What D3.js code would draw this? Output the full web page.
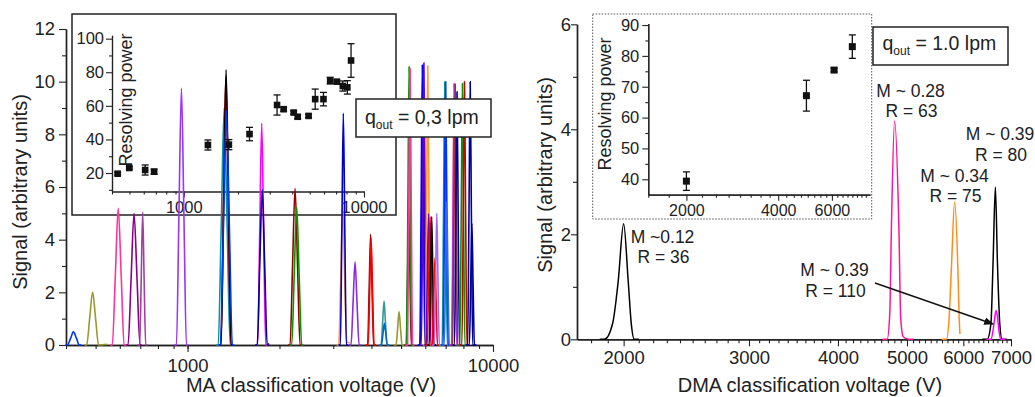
<!DOCTYPE html>
<html><head><meta charset="utf-8">
<script src="https://cdn.jsdelivr.net/npm/d3@7"></script>
<style>body{margin:0;background:#fff}svg{display:block}text{font-family:"Liberation Sans",Arial,Helvetica,sans-serif;fill:#222}</style>
</head><body><svg id="c" width="1035" height="397"></svg>
<script>
// ---------- LEFT PANEL (MA, q_out = 0,3 lpm) ----------
const maXTickLabels = [1000, 10000];
const maYTicks = [0, 2, 4, 6, 8, 10, 12];
const maPeakColors = [
  "#0033ff", "#999933", "#ff3399", "#8b008b", "#a040a0", "#9933ff",
  "#009999", "#ff0000", "#000000", "#0033ff",
  "#ff00ff", "#000099",
  "#990000", "#009900",
  "#ff9933", "#0000cc",
  "#8a2be2",
  "#990000", "#ff0000",
  "#339999", "#0066cc",
  "#999933",
  "#990033", "#009900", "#ff3399",
  "#000099", "#0000ff", "#6600cc",
  "#ff9933", "#7700bb", "#ff0000", "#000000", "#ff0000", "#a366ff",
  "#009999", "#0033ff", "#3366ff",
  "#ff3399", "#9933ff", "#993333", "#000099",
  "#009900", "#cc0000", "#000099", "#000099"
];
const maPeakPoints = [
  [[404,0],[414,0.25],[423,0.5],[433,0.25],[442,0]],
  [[467.5,0],[478,1.0],[489,2.0],[500,1.0],[511.5,0],[545,0.03]],
  [[567,0],[580,2.6],[593,5.2],[606.6,2.6],[620,0]],
  [[638.6,0],[653.3,2.5],[668,5.0],[683.4,2.5],[698.7,0]],
  [[697.3,0],[705.2,2.5],[713,5.05],[720.8,2.5],[729.4,0]],
  [[919.7,0],[936.9,4.9],[955,9.75],[973.1,4.9],[991.3,0]],
  [[1260,0],[1289,4.5],[1318,9.0],[1348,4.5],[1379,0]],
  [[1285.6,0],[1309.6,5.1],[1335,10.2],[1360,5.1],[1385.7,0]],
  [[1287.5,0],[1311.6,5.2],[1337,10.45],[1362.4,5.2],[1387.8,0]],
  [[1281,0],[1310.5,4.45],[1340,8.9],[1370.8,4.45],[1401.6,0]],
  [[1696.5,0],[1722.8,4.2],[1749,8.42],[1775.2,4.2],[1803.2,0]],
  [[1691,0],[1722.6,2.95],[1756,5.9],[1789.4,2.95],[1822.7,0],[1850,0.05]],
  [[2166,0],[2206.7,3.0],[2249,5.95],[2291.7,3.0],[2334.5,0]],
  [[2193,0],[2234,2.6],[2277,5.25],[2320,2.6],[2364,0]],
  [[3125,0],[3174,2.6],[3222,5.25],[3270,2.6],[3322,0.1],[3400,0.08]],
  [[3165,0],[3200,4.4],[3236,8.8],[3272,4.4],[3310,0]],
  [[3429,0],[3482,1.58],[3535,3.16],[3588,1.58],[3645,0]],
  [[3887.6,0],[3931,2.1],[3975,4.2],[4019,2.1],[4066,0]],
  [[3902,0],[3946,2.0],[3990,4.05],[4034,2.0],[4082,0]],
  [[4302,0],[4350.6,0.83],[4399,1.67],[4447,0.83],[4500,0]],
  [[4313,0],[4361.5,0.41],[4410,0.82],[4458.5,0.41],[4511,0]],
  [[4818,0],[4872,0.63],[4926,1.27],[4980,0.63],[5039,0]],
  [[5200,0],[5252,2.6],[5300,5.2],[5348,2.6],[5400.7,0]],
  [[5213,0],[5264,5.3],[5312,10.57],[5360,5.3],[5413,0]],
  [[5252,0],[5304,5.25],[5352,10.5],[5400,5.25],[5454,0]],
  [[5788,0],[5847,5.3],[5900,10.6],[5953,5.3],[6012,0]],
  [[5758,0],[5817,5.3],[5870,10.63],[5923,5.3],[5981.5,0]],
  [[5827,0],[5886.5,5.36],[5940,10.72],[5993.5,5.36],[6053,0]],
  [[6000,0],[6061,5.3],[6116,10.6],[6171,5.3],[6232,0]],
  [[6033,0],[6094.6,2.5],[6150,4.98],[6205,2.5],[6267,0]],
  [[6089,0],[6157.5,2.43],[6226,4.87],[6294.5,2.43],[6369,0]],
  [[6180,0],[6243,2.43],[6300,4.87],[6357,2.43],[6420,0]],
  [[6332,0],[6397,1.65],[6455,3.3],[6513,1.65],[6578,0]],
  [[6421.6,0],[6487,2.5],[6546,5.0],[6605,2.5],[6670,0]],
  [[6818,0],[6887,5.0],[6950,10.0],[7013,5.0],[7082,0]],
  [[6867,0],[6937,5.0],[7000,10.0],[7063,5.0],[7133,0]],
  [[6921,0],[6991.5,2.7],[7055,5.45],[7118.5,2.7],[7189,0]],
  [[7318,0],[7393,4.96],[7460,9.93],[7527,4.96],[7602,0]],
  [[7338,0],[7413,4.95],[7480,9.9],[7547,4.95],[7622,0]],
  [[7377,0],[7452,4.95],[7520,9.9],[7588,4.95],[7663,0]],
  [[7478,0],[7554,4.8],[7623,9.62],[7692,4.8],[7768,0]],
  [[7790,0],[7870,4.96],[7941,9.93],[8012,4.96],[8092,0]],
  [[7910,0],[7990,5.0],[8063,10.0],[8136,5.0],[8216,0]],
  [[8260,0],[8344,5.0],[8420,10.0],[8496,5.0],[8580,0]],
  [[8367,0],[8452,2.3],[8529,4.62],[8606,2.3],[8691,0]]
];
// inset: resolving power vs MA voltage
const maInsetV   = [430, 499, 611, 685, 1362, 1780, 2317, 3294, 3582, 4073, 4288, 4925, 5360, 5960, 6490, 7065, 7626, 8085, 8475];
const maInsetR   = [19.6, 23, 21.8, 20.8, 36.7, 36.9, 43.2, 60.5, 58, 56, 53.5, 54, 64, 64, 75, 74.4, 71.8, 71, 87];
const maInsetErr = [0.8, 0.8, 3, 1.5, 3, 3, 4, 6, 1.2, 1, 1.2, 1, 6, 4, 2, 1, 3, 4, 10];
const maInsetYTicks = [20, 40, 60, 80, 100];

// ---------- RIGHT PANEL (DMA, q_out = 1.0 lpm) ----------
const dmaXTicks = [2000, 3000, 4000, 5000, 6000, 7000];
const dmaYTicks = [0, 2, 4, 6];
const dmaPeakColors = ["#000000", "#ff1493", "#ff8c1a", "#000000", "#ff00ff"];
const dmaPeakPoints = [
  [[1880,0],[1930,0.3],[1965,1.1],[2000,2.2],[2030,1.1],[2050,0.3],[2070,0]],
  [[4690,0],[4730,0.5],[4754,2.08],[4804,4.16],[4872,2.08],[4900,0.4],[4940,0.05],[5030,0]],
  [[5680,0],[5730,0.4],[5771,1.31],[5834,2.62],[5896,1.31],[5920,0.4],[5935,0.1]],
  [[6480,0],[6560,0.3],[6605,1.45],[6655,2.9],[6700,1.45],[6750,0.3],[6800,0]],
  [[6560,0],[6610,0.2],[6640,0.4],[6670,0.55],[6705,0.4],[6735,0.15],[6770,0]]
];
const dmaLabelsM = ["M ~0.12", "M ~ 0.28", "M ~ 0.39", "M ~ 0.34", "M ~ 0.39"];
const dmaLabelsR = ["R = 36", "R = 63", "R = 80", "R = 75", "R = 110"];
const dmaInsetV   = [2000, 4950, 6100, 7000];
const dmaInsetR   = [39.4, 67.1, 75.4, 83];
const dmaInsetErr = [3, 5, 0.6, 3.8];
const dmaInsetXTicks = [2000, 4000, 6000];
const dmaInsetYTicks = [40, 50, 60, 70, 80, 90];

// ================= drawing =================
const svg = d3.select("#c");
const FONT = "'Liberation Sans', Arial, Helvetica, sans-serif";
const TICKFS = 18.5, TITLEFS = 20;

function styleAxis(g, fs, sw) {
  g.select(".domain").attr("stroke", "#222").attr("stroke-width", sw || 1.4);
  g.selectAll(".tick line").attr("stroke", "#222").attr("stroke-width", 1.1);
  g.selectAll(".tick text").attr("font-size", fs).attr("font-family", FONT).attr("fill", "#222");
}
function logMinor(lo, hi) {
  const out = [];
  for (let d = Math.pow(10, Math.floor(Math.log10(lo))); d < hi; d *= 10)
    for (let k = 1; k < 10; k++) { const v = k * d; if (v >= lo && v <= hi) out.push(v); }
  return out;
}
// flat baseline shoulders so the monotone curve leaves the baseline smoothly
function withShoulders(p) {
  const out = p.slice();
  if (p[0][1] === 0) out.unshift([p[0][0] * 0.985, 0]);
  if (p[p.length - 1][1] === 0) out.push([p[p.length - 1][0] * 1.015, 0]);
  return out;
}

// ---------- left scales ----------
const xL = d3.scaleLog().domain([400, 10000]).range([66, 493]);
const yL = d3.scaleLinear().domain([0, 12]).range([345, 29]);
const xLi = d3.scaleLog().domain([400, 10000]).range([112, 364]);
const yLi = d3.scaleLinear().domain([9, 102]).range([191.5, 35.3]);

let g;
g = svg.append("g").attr("transform", "translate(0,345)")
  .call(d3.axisBottom(xL).tickValues(logMinor(400, 10000)).tickSize(4).tickFormat("").tickSizeOuter(0));
styleAxis(g, TICKFS);
g = svg.append("g").attr("transform", "translate(0,345)")
  .call(d3.axisBottom(xL).tickValues(maXTickLabels).tickSize(7).tickPadding(7).tickFormat(d3.format("d")).tickSizeOuter(0));
styleAxis(g, TICKFS);
g = svg.append("g").attr("transform", "translate(66,0)")
  .call(d3.axisLeft(yL).tickValues([1,3,5,7,9,11]).tickSize(4).tickFormat("").tickSizeOuter(0));
styleAxis(g, TICKFS);
g = svg.append("g").attr("transform", "translate(66,0)")
  .call(d3.axisLeft(yL).tickValues(maYTicks).tickSize(7).tickPadding(4).tickSizeOuter(0));
styleAxis(g, TICKFS);

svg.append("text").attr("x", 311).attr("y", 392).attr("text-anchor", "middle")
  .attr("font-size", TITLEFS).text("MA classification voltage (V)");
svg.append("text").attr("transform", "translate(27,192) rotate(-90)").attr("text-anchor", "middle")
  .attr("font-size", TITLEFS).text("Signal (arbitrary units)");

// inset box left
svg.append("rect").attr("x", 72).attr("y", 14).attr("width", 324).attr("height", 201)
  .attr("fill", "none").attr("stroke", "#222").attr("stroke-width", 1.5);
g = svg.append("g").attr("transform", "translate(0,191.5)")
  .call(d3.axisBottom(xLi).tickValues(logMinor(400, 10000)).tickSize(3).tickFormat("").tickSizeOuter(0));
styleAxis(g, 16.5, 1.2);
g = svg.append("g").attr("transform", "translate(0,191.5)")
  .call(d3.axisBottom(xLi).tickValues(maXTickLabels).tickSize(6).tickPadding(4).tickFormat(d3.format("d")).tickSizeOuter(0));
styleAxis(g, 16.5, 1.2);
g = svg.append("g").attr("transform", "translate(112,0)")
  .call(d3.axisLeft(yLi).tickValues([10, 30, 50, 70, 90]).tickSize(3).tickFormat("").tickSizeOuter(0));
styleAxis(g, 16.5, 1.2);
g = svg.append("g").attr("transform", "translate(112,0)")
  .call(d3.axisLeft(yLi).tickValues(maInsetYTicks).tickSize(6).tickPadding(2).tickSizeOuter(0));
styleAxis(g, 16.5, 1.2);
svg.append("text").attr("transform", "translate(132,100) rotate(-90)").attr("text-anchor", "middle")
  .attr("font-size", 18).text("Resolving power");

// peaks left
const lineL = d3.line().x(d => xL(d[0])).y(d => yL(d[1])).curve(d3.curveMonotoneX);
svg.append("g").selectAll("path").data(maPeakPoints.map(withShoulders)).join("path")
  .attr("d", lineL).attr("fill", "none")
  .attr("stroke", (d, i) => maPeakColors[i]).attr("stroke-width", 1.6).attr("stroke-linejoin", "round");

// inset points left
const ptsL = svg.append("g");
maInsetV.forEach((v, i) => {
  const x = xLi(v), y0 = yLi(maInsetR[i] - maInsetErr[i]), y1 = yLi(maInsetR[i] + maInsetErr[i]);
  ptsL.append("line").attr("x1", x).attr("x2", x).attr("y1", y0).attr("y2", y1).attr("stroke", "#111").attr("stroke-width", 1.3);
  ptsL.append("line").attr("x1", x - 3.5).attr("x2", x + 3.5).attr("y1", y0).attr("y2", y0).attr("stroke", "#111").attr("stroke-width", 1.3);
  ptsL.append("line").attr("x1", x - 3.5).attr("x2", x + 3.5).attr("y1", y1).attr("y2", y1).attr("stroke", "#111").attr("stroke-width", 1.3);
  ptsL.append("rect").attr("x", x - 3.3).attr("y", yLi(maInsetR[i]) - 3.3).attr("width", 6.6).attr("height", 6.6).attr("fill", "#111");
});

// q box left
svg.append("rect").attr("x", 356).attr("y", 99).attr("width", 135).attr("height", 38)
  .attr("fill", "#fff").attr("stroke", "#222").attr("stroke-width", 1.5);
let qt = svg.append("text").attr("x", 365).attr("y", 124).attr("font-size", 19.5);
qt.append("tspan").text("q");
qt.append("tspan").attr("font-size", 12).attr("dy", 5).text("out");
qt.append("tspan").attr("dy", -5).text(" = 0,3 lpm");

// ---------- right scales ----------
const xR = d3.scaleLog().domain([1720, 7000]).range([577, 1011]);
const yR = d3.scaleLinear().domain([0, 6]).range([339.3, 24.3]);
const xRi = d3.scaleLog().domain([1500, 8000]).range([648.3, 870]);
const yRi = d3.scaleLinear().domain([35, 90.5]).range([194.7, 23.5]);

const dmaMinor = d3.range(1800, 7000, 100).filter(v => v % 1000 !== 0);
g = svg.append("g").attr("transform", "translate(0,339.3)")
  .call(d3.axisBottom(xR).tickValues(dmaMinor).tickSize(4).tickFormat("").tickSizeOuter(0));
styleAxis(g, TICKFS);
g = svg.append("g").attr("transform", "translate(0,339.3)")
  .call(d3.axisBottom(xR).tickValues(dmaXTicks).tickSize(7).tickPadding(5).tickFormat(d3.format("d")).tickSizeOuter(0));
styleAxis(g, TICKFS);
g = svg.append("g").attr("transform", "translate(577,0)")
  .call(d3.axisLeft(yR).tickValues([1, 3, 5]).tickSize(4).tickFormat("").tickSizeOuter(0));
styleAxis(g, TICKFS);
g = svg.append("g").attr("transform", "translate(577,0)")
  .call(d3.axisLeft(yR).tickValues(dmaYTicks).tickSize(6).tickPadding(0).tickFormat(d3.format("d")).tickSizeOuter(0));
styleAxis(g, TICKFS);

svg.append("text").attr("x", 810).attr("y", 392).attr("text-anchor", "middle")
  .attr("font-size", TITLEFS).text("DMA classification voltage (V)");
svg.append("text").attr("transform", "translate(552,175) rotate(-90)").attr("text-anchor", "middle")
  .attr("font-size", TITLEFS).text("Signal (arbitrary units)");

// inset right
svg.append("rect").attr("x", 592.7).attr("y", 14).attr("width", 279).attr("height", 205)
  .attr("fill", "none").attr("stroke", "#555").attr("stroke-width", 1).attr("stroke-dasharray", "1.5,1.5");
const dmaInsetMinor = d3.range(1500, 8001, 250).filter(v => v % 2000 !== 0);
g = svg.append("g").attr("transform", "translate(0,194.7)")
  .call(d3.axisBottom(xRi).tickValues(dmaInsetMinor).tickSize(3).tickFormat("").tickSizeOuter(0));
styleAxis(g, 16, 1.2);
g = svg.append("g").attr("transform", "translate(0,194.7)")
  .call(d3.axisBottom(xRi).tickValues(dmaInsetXTicks).tickSize(6).tickPadding(4).tickFormat(d3.format("d")).tickSizeOuter(0));
styleAxis(g, 16, 1.2);
g = svg.append("g").attr("transform", "translate(648.3,0)")
  .call(d3.axisLeft(yRi).tickValues([45, 55, 65, 75, 85]).tickSize(3).tickFormat("").tickSizeOuter(0));
styleAxis(g, 16.5, 1.2);
g = svg.append("g").attr("transform", "translate(648.3,0)")
  .call(d3.axisLeft(yRi).tickValues(dmaInsetYTicks).tickSize(6).tickPadding(3).tickSizeOuter(0));
styleAxis(g, 16.5, 1.2);
svg.append("text").attr("transform", "translate(611,104) rotate(-90)").attr("text-anchor", "middle")
  .attr("font-size", 18).text("Resolving power");

const ptsR = svg.append("g");
dmaInsetV.forEach((v, i) => {
  const x = xRi(v), y0 = yRi(dmaInsetR[i] - dmaInsetErr[i]), y1 = yRi(dmaInsetR[i] + dmaInsetErr[i]);
  ptsR.append("line").attr("x1", x).attr("x2", x).attr("y1", y0).attr("y2", y1).attr("stroke", "#111").attr("stroke-width", 1.3);
  ptsR.append("line").attr("x1", x - 3.5).attr("x2", x + 3.5).attr("y1", y0).attr("y2", y0).attr("stroke", "#111").attr("stroke-width", 1.3);
  ptsR.append("line").attr("x1", x - 3.5).attr("x2", x + 3.5).attr("y1", y1).attr("y2", y1).attr("stroke", "#111").attr("stroke-width", 1.3);
  ptsR.append("rect").attr("x", x - 3.5).attr("y", yRi(dmaInsetR[i]) - 3.5).attr("width", 7).attr("height", 7).attr("fill", "#111");
});

// peaks right
const lineR = d3.line().x(d => xR(d[0])).y(d => yR(d[1])).curve(d3.curveMonotoneX);
svg.append("g").selectAll("path").data(dmaPeakPoints.map(withShoulders)).join("path")
  .attr("d", lineR).attr("fill", "none")
  .attr("stroke", (d, i) => dmaPeakColors[i]).attr("stroke-width", 1.5).attr("stroke-linejoin", "round");

// annotations right
const annX = [662.5, 910.5, 1000, 954.5, 834.5];
const annYM = [243, 96.7, 140, 181.7, 276];
const annYR = [263.3, 117.3, 160.7, 202.3, 296.7];
dmaLabelsM.forEach((t, i) => {
  svg.append("text").attr("x", annX[i]).attr("y", annYM[i]).attr("text-anchor", "middle").attr("font-size", 17.5).text(t);
  svg.append("text").attr("x", annX[i] + 1).attr("y", annYR[i]).attr("text-anchor", "middle").attr("font-size", 17.5).text(dmaLabelsR[i]);
});
svg.append("defs").append("marker").attr("id", "ah").attr("viewBox", "0 0 10 10")
  .attr("refX", 9).attr("refY", 5).attr("markerWidth", 7).attr("markerHeight", 7).attr("orient", "auto")
  .append("path").attr("d", "M0,1 L10,5 L0,9 z").attr("fill", "#111");
svg.append("line").attr("x1", 875).attr("y1", 283).attr("x2", 993).attr("y2", 324)
  .attr("stroke", "#111").attr("stroke-width", 1.4).attr("marker-end", "url(#ah)");

// q box right
svg.append("rect").attr("x", 873).attr("y", 27).attr("width", 135).attr("height", 38)
  .attr("fill", "#fff").attr("stroke", "#222").attr("stroke-width", 1.5);
qt = svg.append("text").attr("x", 882.5).attr("y", 50).attr("font-size", 19.5);
qt.append("tspan").text("q");
qt.append("tspan").attr("font-size", 12).attr("dy", 5).text("out");
qt.append("tspan").attr("dy", -5).text(" = 1.0 lpm");
</script></body></html>
